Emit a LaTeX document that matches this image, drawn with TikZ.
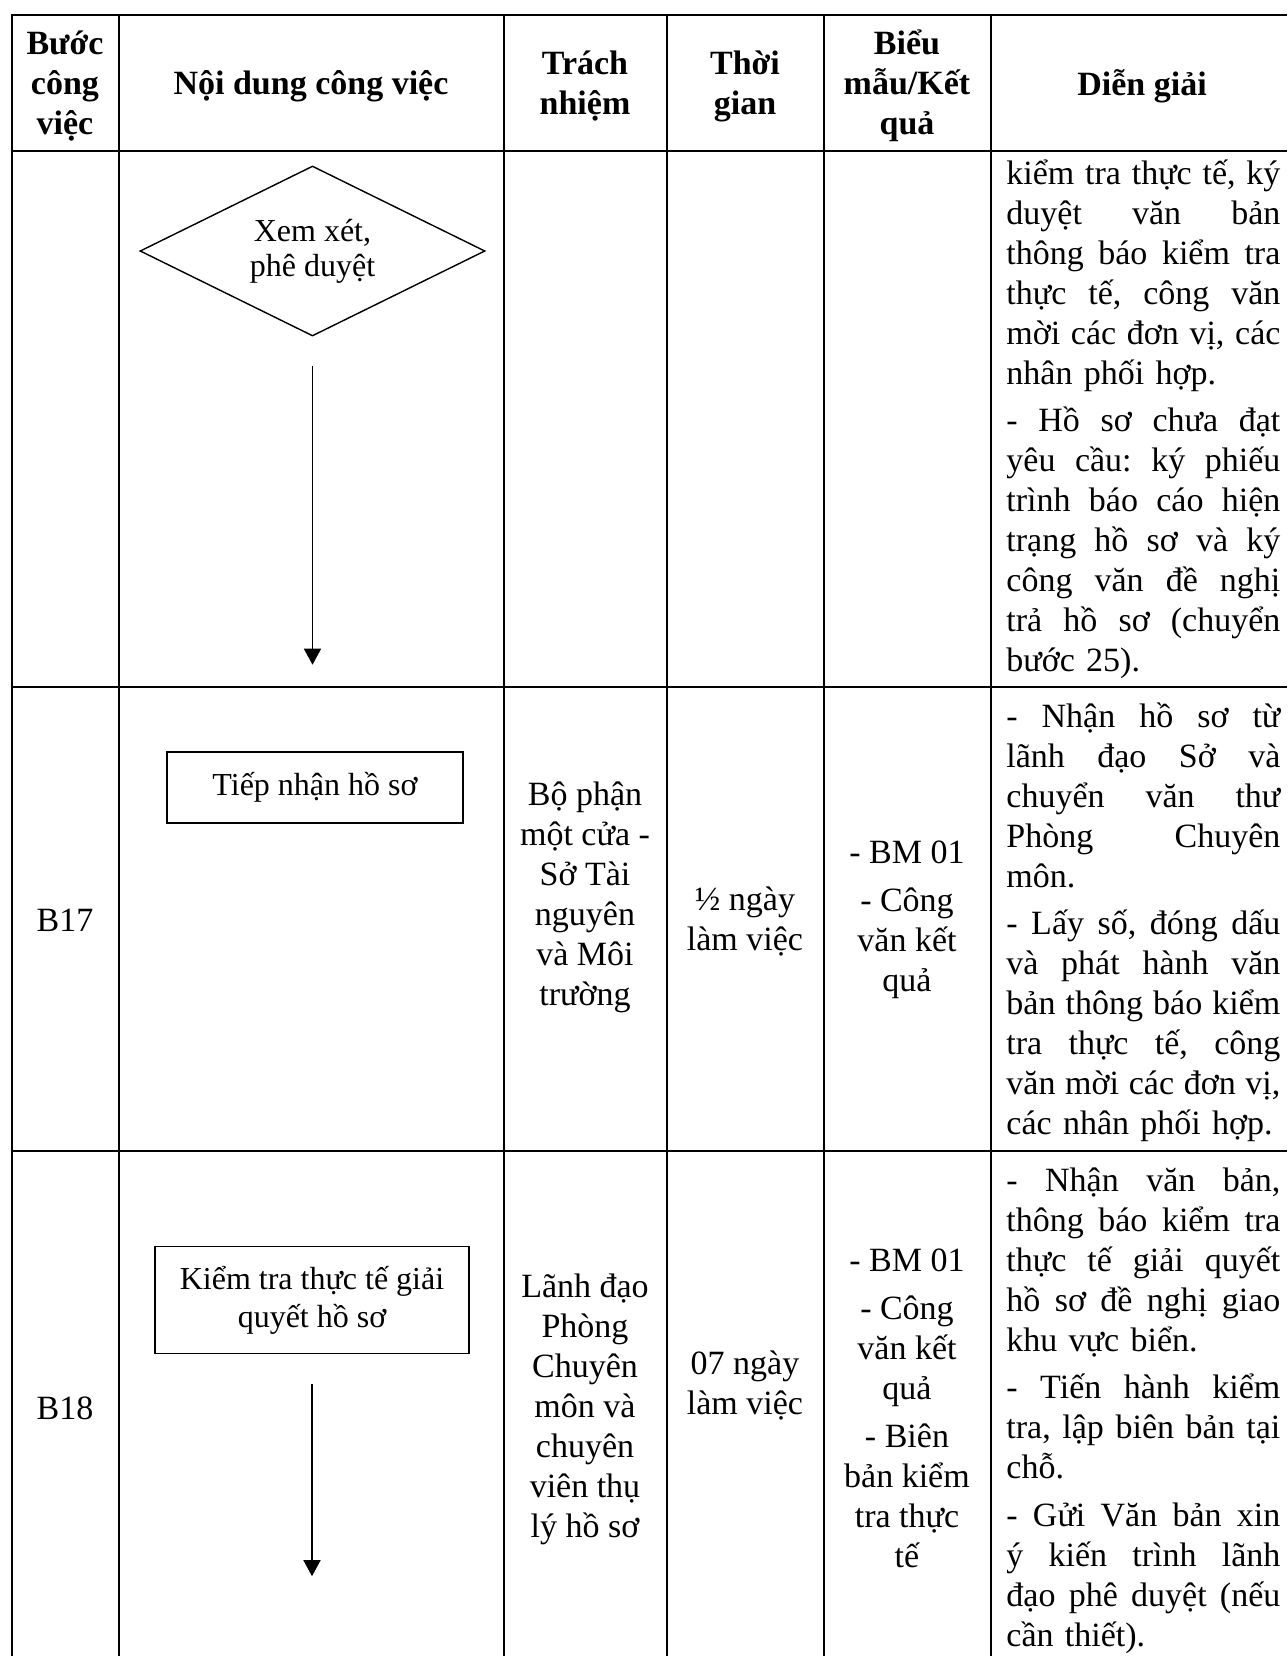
\documentclass[tikz,border=0pt]{standalone}
\usepackage{fontspec}
\setmainfont{Liberation Serif}
\usepackage{tikz}
\usetikzlibrary{arrows.meta}
\usetikzlibrary{shapes.geometric}
\usetikzlibrary{positioning}

\newlength{\dgwidth}
\setlength{\dgwidth}{137pt}
\newcommand{\jline}[1]{\leavevmode\hbox to\dgwidth{\frenchspacing\spaceskip=0.25em plus 1fil\relax #1}}

\begin{document}
\begin{tikzpicture}[
    x = 0.5pt,
    y = -0.5pt,
    node distance = 15pt]
    \tikzstyle{every node}=[font=\fontsize{17}{20}\selectfont,inner sep=0pt]
    \tikzstyle{tablerule}=[line width=1pt]
    \tikzstyle{headcell}=[font=\fontsize{17}{20}\selectfont\bfseries,align=center]
    \tikzstyle{cell}=[align=center]
    \tikzstyle{dgtext}=[align=left,text width=\dgwidth,anchor=base west]
    \tikzstyle{decision}=[diamond,draw,line width=0.7pt,aspect=2,
      minimum width=172.5pt,minimum height=85pt,align=center,
      font=\fontsize{16}{17.5}\selectfont]
    \tikzstyle{process}=[rectangle,draw,line width=0.7pt,align=center,
      font=\fontsize{16}{19}\selectfont]
    \tikzstyle{flow}=[line width=0.8pt,-{Triangle[length=8pt,width=8.5pt]}]
    \useasboundingbox (0,0) rectangle (1287,1656);
    % table rules
    \draw[tablerule] (12,1656) -- (12,15) -- (1287,15);
    \foreach \y in {151,687,1151}
      \draw[tablerule] (12,\y) -- (1287,\y);
    \foreach \x in {119,504,667,824,991}
      \draw[tablerule] (\x,15) -- (\x,1656);
    % header
    \node[headcell] (hstep) at (65,86) {Bước\\công\\việc};
    \node[headcell] (hcontent) at (311,86) {Nội dung công việc};
    \node[headcell] (hduty) at (585,86) {Trách\\nhiệm};
    \node[headcell] (htime) at (745,86) {Thời\\gian};
    \node[headcell] (hform) at (907,86) {Biểu\\mẫu/Kết\\quả};
    \node[headcell] (hnote) at (1142,86) {Diễn giải};
    % flow chart
    \node[decision] (xemxet) at (312.5,251) {Xem xét,\\phê duyệt};
    \node[process,minimum width=148pt,minimum height=35.5pt] (tiepnhan)
      at (315,787.5) {Tiếp nhận hồ sơ};
    \node[process,minimum width=157pt,minimum height=53.5pt] (kiemtra)
      at (312,1300) {Kiểm tra thực tế giải\\quyết hồ sơ};
    \coordinate[below=164pt of xemxet] (tip1);
    \coordinate[below=111pt of kiemtra] (tip2);
    \path[flow]
    (xemxet) edge [shorten <=14.5pt] (tip1)
    (kiemtra) edge [shorten <=15pt] (tip2) ;
    % B17
    \node[cell] (b17) at (65,920) {B17};
    \node[cell] (duty17) at (585,897) {Bộ phận\\một cửa -\\Sở Tài\\nguyên\\và Môi\\trường};
    \node[cell] (time17) at (745,921) {½ ngày\\làm việc};
    \node[cell] (form17) at (907,920) {- BM 01\\[4pt]- Công\\văn kết\\quả};
    % B18
    \node[cell] (b18) at (65,1408) {B18};
    \node[cell] (duty18) at (585,1409) {Lãnh đạo\\Phòng\\Chuyên\\môn và\\chuyên\\viên thụ\\lý hồ sơ};
    \node[cell] (time18) at (745,1385) {07 ngày\\làm việc};
    \node[cell] (form18) at (907,1408) {- BM 01\\[4pt]- Công\\văn kết\\quả\\[4pt]- Biên\\bản kiểm\\tra thực\\tế};
    % notes
    \node[dgtext] (note16) at (1006,184) {\jline{kiểm tra thực tế, ký}\\
      \jline{duyệt văn bản}\\
      \jline{thông báo kiểm tra}\\
      \jline{thực tế, công văn}\\
      \jline{mời các đơn vị, các}\\
      nhân phối hợp.\\[3.75pt]
      \jline{- Hồ sơ chưa đạt}\\
      \jline{yêu cầu: ký phiếu}\\
      \jline{trình báo cáo hiện}\\
      \jline{trạng hồ sơ và ký}\\
      \jline{công văn đề nghị}\\
      \jline{trả hồ sơ (chuyển}\\
      bước 25).};
    \node[dgtext] (note17) at (1006,727) {\jline{- Nhận hồ sơ từ}\\
      \jline{lãnh đạo Sở và}\\
      \jline{chuyển văn thư}\\
      \jline{Phòng Chuyên}\\
      môn.\\[3.75pt]
      \jline{- Lấy số, đóng dấu}\\
      \jline{và phát hành văn}\\
      \jline{bản thông báo kiểm}\\
      \jline{tra thực tế, công}\\
      \jline{văn mời các đơn vị,}\\
      các nhân phối hợp.};
    \node[dgtext] (note18) at (1006,1191) {\jline{- Nhận văn bản,}\\
      \jline{thông báo kiểm tra}\\
      \jline{thực tế giải quyết}\\
      \jline{hồ sơ đề nghị giao}\\
      khu vực biển.\\[3.75pt]
      \jline{- Tiến hành kiểm}\\
      \jline{tra, lập biên bản tại}\\
      chỗ.\\[3.75pt]
      \jline{- Gửi Văn bản xin}\\
      \jline{ý kiến trình lãnh}\\
      \jline{đạo phê duyệt (nếu}\\
      cần thiết).};
\end{tikzpicture}
\end{document}
